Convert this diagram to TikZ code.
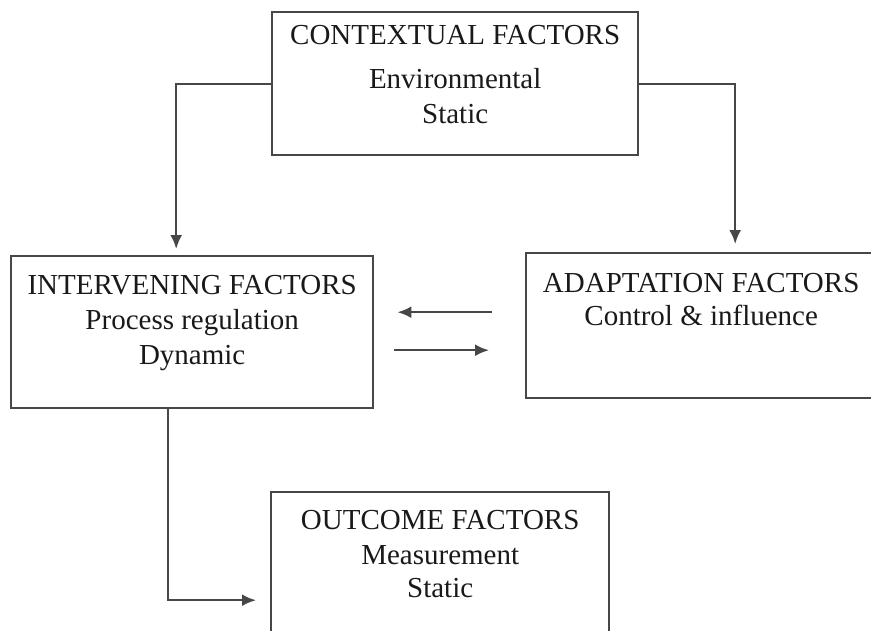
\documentclass[tikz,border=0pt]{standalone}
\usepackage{fontspec}
\setmainfont{Liberation Serif}
\usetikzlibrary{arrows.meta, positioning}

\begin{document}
\begin{tikzpicture}[
        x=1pt, y=-1pt,
        every node/.style={font=\fontsize{29}{35}\selectfont, text=black!90},
        factorbox/.style={rectangle, draw=black!72, line width=2.4pt, anchor=north west, inner sep=0pt},
        factortext/.style={align=center, inner sep=0pt},
        arrow/.style={-{Latex[length=14pt, width=12pt]}, draw=black!72, line width=2.4pt}
    ]
        \useasboundingbox[clip] (0,0) rectangle (871,630);

        % Boxes
        \node[factorbox, minimum width=366pt, minimum height=143pt] (context) at (271,11) {};
        \node[factorbox, minimum width=362pt, minimum height=152pt] (interv) at (10,255) {};
        \node[factorbox, minimum width=350pt, minimum height=145pt] (adapt) at (525,252) {};
        \node[factorbox, minimum width=338pt, minimum height=150pt] (outcome) at (270,491) {};

        % Texts
        \node[factortext, below=14pt of context.north] (contexttext) {CONTEXTUAL FACTORS\\[9pt] Environmental\\ Static};
        \node[factortext, below=20pt of interv.north] (intervtext) {INTERVENING FACTORS\\ Process regulation\\ Dynamic};
        \node[factortext, below=21pt of adapt.north] (adapttext) {ADAPTATION FACTORS\\[-2pt] Control \& influence};
        \node[factortext, below=19pt of outcome.north] (outcometext) {OUTCOME FACTORS\\ Measurement\\[-2pt] Static};

        % Arrows (from context)
        \draw[arrow, shorten >=6pt] (context.west) -| ([xshift=-16pt]interv.north);
        \draw[arrow, shorten >=8pt] (context.east) -| ([xshift=34pt]adapt.north);

        % Arrows (between intervening and adaptation)
        \draw[arrow] ([xshift=-33pt, yshift=13.5pt]adapt.west) -- ([xshift=23pt, yshift=20pt]interv.east);
        \draw[arrow] ([xshift=20pt, yshift=-18pt]interv.east) -- ([xshift=-36pt, yshift=-24.5pt]adapt.west);

        % Arrow to outcome
        \draw[arrow, shorten >=14pt] ([xshift=-24pt]interv.south) |- ([yshift=-33pt]outcome.west);

    \end{tikzpicture}
\end{document}
